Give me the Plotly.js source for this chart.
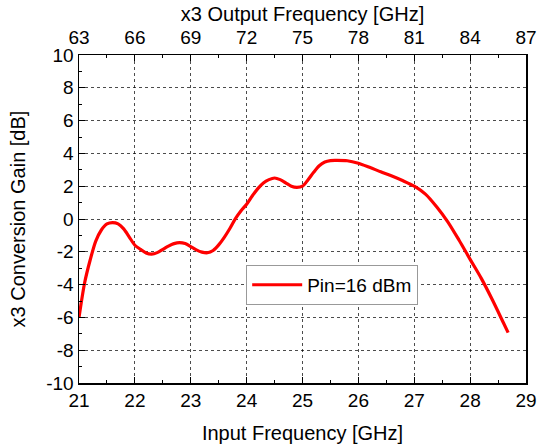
<!DOCTYPE html>
<html>
<head>
<meta charset="utf-8">
<script src="https://cdn.plot.ly/plotly-3.0.1.min.js"></script>
<style>html,body{margin:0;padding:0;background:#fff;}#plot{width:539px;height:448px;}</style>
</head>
<body>
<div id="plot"></div>
<script>
// Input frequency [GHz]
const inputFreq = [21.0, 21.1, 21.2, 21.3, 21.4, 21.5, 21.6, 21.7, 21.8, 21.9, 22.0, 22.1, 22.2, 22.3, 22.4, 22.5, 22.6, 22.7, 22.8, 22.9, 23.0, 23.1, 23.2, 23.3, 23.4, 23.5, 23.6, 23.7, 23.8, 23.9, 24.0, 24.1, 24.2, 24.3, 24.4, 24.5, 24.6, 24.7, 24.8, 24.9, 25.0, 25.1, 25.2, 25.3, 25.4, 25.5, 25.6, 25.8, 26.0, 26.2, 26.4, 26.6, 26.8, 27.0, 27.2, 27.4, 27.6, 27.8, 28.0, 28.2, 28.4, 28.6, 28.68];
// x3 conversion gain [dB]
const gainDb = [-6.0, -3.9, -2.5, -1.35, -0.67, -0.3, -0.22, -0.3, -0.6, -1.1, -1.6, -1.85, -2.07, -2.14, -2.05, -1.85, -1.65, -1.5, -1.44, -1.5, -1.68, -1.88, -2.02, -2.06, -1.92, -1.58, -1.12, -0.58, 0.02, 0.5, 0.9, 1.4, 1.85, 2.2, 2.4, 2.5, 2.4, 2.2, 2.0, 1.93, 2.0, 2.4, 2.85, 3.25, 3.47, 3.56, 3.57, 3.55, 3.4, 3.15, 2.88, 2.62, 2.33, 2.0, 1.52, 0.75, -0.17, -1.28, -2.46, -3.62, -4.94, -6.36, -6.93];
const seriesName = 'Pin=16 dBm';
const bottomTicks = [21, 22, 23, 24, 25, 26, 27, 28, 29];
const topTicks = [63, 66, 69, 72, 75, 78, 81, 84, 87];
const yTicks = [-10, -8, -6, -4, -2, 0, 2, 4, 6, 8, 10];

const family = 'Liberation Sans, Arial, sans-serif';
const tickFont = {family: family, size: 19, color: '#000'};
const titleFont = {family: family, size: 20, color: '#000'};

const traces = [{
  x: inputFreq, y: gainDb, name: seriesName, type: 'scatter', mode: 'lines',
  line: {color: '#ff0000', width: 3.2, shape: 'spline', smoothing: 0.8},
  xaxis: 'x', yaxis: 'y'
}];

const gridStyle = {showgrid: true, gridcolor: 'rgba(0,0,0,0.7)', gridwidth: 1, griddash: 'dot'};

const layout = {
  width: 539, height: 448,
  margin: {l: 79, r: 13, t: 55, b: 65, pad: 0},
  paper_bgcolor: '#fff', plot_bgcolor: '#fff',
  font: tickFont,
  showlegend: true,
  legend: {x: 0.374, y: 0.36, xanchor: 'left', yanchor: 'top', bgcolor: '#fff',
    bordercolor: '#999', borderwidth: 1, font: tickFont,
    itemwidth: 50, tracegroupgap: 0},
  xaxis: Object.assign({
    range: [21, 29], tickvals: bottomTicks, ticktext: bottomTicks.map(String),
    ticks: 'inside', ticklen: 6, tickwidth: 1, tickcolor: '#000',
    minor: {dtick: 0.5, tick0: 21, ticks: 'inside', ticklen: 3, tickcolor: '#000', showgrid: false},
    showline: true, linecolor: '#000', linewidth: 1.5, mirror: true, zeroline: false,
    tickfont: tickFont,
    title: {text: 'Input Frequency [GHz]', font: titleFont, standoff: 15}
  }, gridStyle),
  xaxis2: {
    range: [63, 87], tickvals: topTicks, ticktext: topTicks.map(String),
    overlaying: 'x', side: 'top', anchor: 'y',
    ticks: 'inside', ticklen: 6, tickwidth: 1, tickcolor: '#000',
    ticklabelstandoff: 6,
    minor: {dtick: 1.5, tick0: 63, ticks: 'inside', ticklen: 3, tickcolor: '#000', showgrid: false},
    showgrid: false, zeroline: false, showline: false,
    tickfont: tickFont,
    title: {text: 'x3 Output Frequency [GHz]', font: titleFont, standoff: 0}
  },
  yaxis: Object.assign({
    range: [-10, 10], tickvals: yTicks, ticktext: yTicks.map(String),
    ticks: 'inside', ticklen: 6, tickwidth: 1, tickcolor: '#000',
    minor: {dtick: 1, tick0: -10, ticks: 'inside', ticklen: 3, tickcolor: '#000', showgrid: false},
    showline: true, linecolor: '#000', linewidth: 1.5, mirror: true, zeroline: false,
    tickfont: tickFont,
    title: {text: 'x3 Conversion Gain [dB]', font: titleFont, standoff: 15}
  }, gridStyle)
};

// invisible trace so the top axis is bound to data
traces.push({x: [63, 87], y: [null, null], xaxis: 'x2', yaxis: 'y', showlegend: false, hoverinfo: 'skip', mode: 'lines', line: {width: 0}});

Plotly.newPlot('plot', traces, layout, {displayModeBar: false, staticPlot: true});
</script>
</body>
</html>
